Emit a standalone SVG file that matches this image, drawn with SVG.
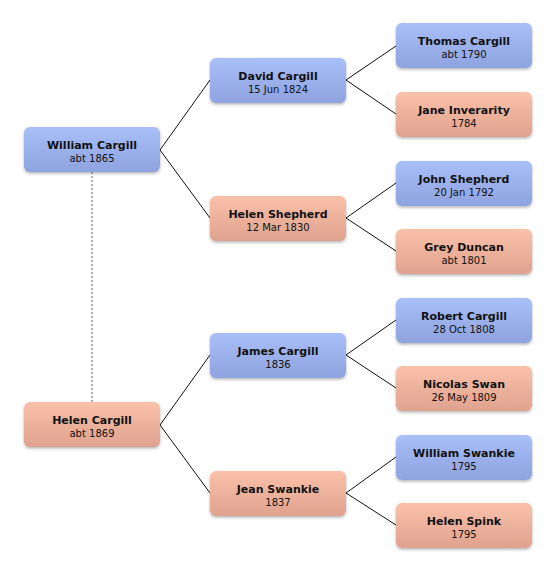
<svg xmlns="http://www.w3.org/2000/svg" width="556" height="574" viewBox="0 0 556 574">
<defs>
<linearGradient id="gb" x1="0" y1="0" x2="0" y2="1"><stop offset="0" stop-color="#a9bff8"/><stop offset="1" stop-color="#8ea3df"/></linearGradient>
<linearGradient id="gp" x1="0" y1="0" x2="0" y2="1"><stop offset="0" stop-color="#fac1aa"/><stop offset="1" stop-color="#dfa28e"/></linearGradient>
<filter id="sh" x="-10%" y="-20%" width="120%" height="150%"><feDropShadow dx="0" dy="1.5" stdDeviation="1.5" flood-color="#000" flood-opacity="0.3"/></filter>
</defs>
<style>
.b{fill:url(#gb);filter:url(#sh)}
.p{fill:url(#gp);filter:url(#sh)}
.n{font-family:"DejaVu Sans",Verdana,sans-serif;font-size:11px;font-weight:bold;fill:#111;text-anchor:middle}
.d{font-family:"DejaVu Sans",Verdana,sans-serif;font-size:10px;fill:#111;text-anchor:middle}
.c{stroke:#111;stroke-width:1;fill:none}
.k{stroke:#666;stroke-width:1;stroke-dasharray:2,2;fill:none}
</style>
<rect width="556" height="574" fill="#fff"/>
<g id="connectors">
<path class="k" d="M92 172V402"/>
<path class="c" d="M160 150L210 80M160 150L210 218"/>
<path class="c" d="M160 425L210 355M160 425L210 493"/>
<path class="c" d="M346 80L396 46M346 80L396 114"/>
<path class="c" d="M346 218L396 183M346 218L396 251"/>
<path class="c" d="M346 355L396 320M346 355L396 388"/>
<path class="c" d="M346 493L396 457M346 493L396 525"/>
</g>
<g id="william-cargill"><rect class="b" x="24" y="127" width="136" height="45" rx="6"/><text class="n" x="92" y="149">William Cargill</text><text class="d" x="92" y="162">abt 1865</text></g>
<g id="helen-cargill"><rect class="p" x="24" y="402" width="136" height="45" rx="6"/><text class="n" x="92" y="424">Helen Cargill</text><text class="d" x="92" y="437">abt 1869</text></g>
<g id="david-cargill"><rect class="b" x="210" y="58" width="136" height="45" rx="6"/><text class="n" x="278" y="80">David Cargill</text><text class="d" x="278" y="93">15 Jun 1824</text></g>
<g id="helen-shepherd"><rect class="p" x="210" y="196" width="136" height="45" rx="6"/><text class="n" x="278" y="218">Helen Shepherd</text><text class="d" x="278" y="231">12 Mar 1830</text></g>
<g id="james-cargill"><rect class="b" x="210" y="333" width="136" height="45" rx="6"/><text class="n" x="278" y="355">James Cargill</text><text class="d" x="278" y="368">1836</text></g>
<g id="jean-swankie"><rect class="p" x="210" y="471" width="136" height="45" rx="6"/><text class="n" x="278" y="493">Jean Swankie</text><text class="d" x="278" y="506">1837</text></g>
<g id="thomas-cargill"><rect class="b" x="396" y="23" width="136" height="45" rx="6"/><text class="n" x="464" y="45">Thomas Cargill</text><text class="d" x="464" y="58">abt 1790</text></g>
<g id="jane-inverarity"><rect class="p" x="396" y="92" width="136" height="45" rx="6"/><text class="n" x="464" y="114">Jane Inverarity</text><text class="d" x="464" y="127">1784</text></g>
<g id="john-shepherd"><rect class="b" x="396" y="161" width="136" height="45" rx="6"/><text class="n" x="464" y="183">John Shepherd</text><text class="d" x="464" y="196">20 Jan 1792</text></g>
<g id="grey-duncan"><rect class="p" x="396" y="229" width="136" height="45" rx="6"/><text class="n" x="464" y="251">Grey Duncan</text><text class="d" x="464" y="264">abt 1801</text></g>
<g id="robert-cargill"><rect class="b" x="396" y="298" width="136" height="45" rx="6"/><text class="n" x="464" y="320">Robert Cargill</text><text class="d" x="464" y="333">28 Oct 1808</text></g>
<g id="nicolas-swan"><rect class="p" x="396" y="366" width="136" height="45" rx="6"/><text class="n" x="464" y="388">Nicolas Swan</text><text class="d" x="464" y="401">26 May 1809</text></g>
<g id="william-swankie"><rect class="b" x="396" y="435" width="136" height="45" rx="6"/><text class="n" x="464" y="457">William Swankie</text><text class="d" x="464" y="470">1795</text></g>
<g id="helen-spink"><rect class="p" x="396" y="503" width="136" height="45" rx="6"/><text class="n" x="464" y="525">Helen Spink</text><text class="d" x="464" y="538">1795</text></g>
</svg>
